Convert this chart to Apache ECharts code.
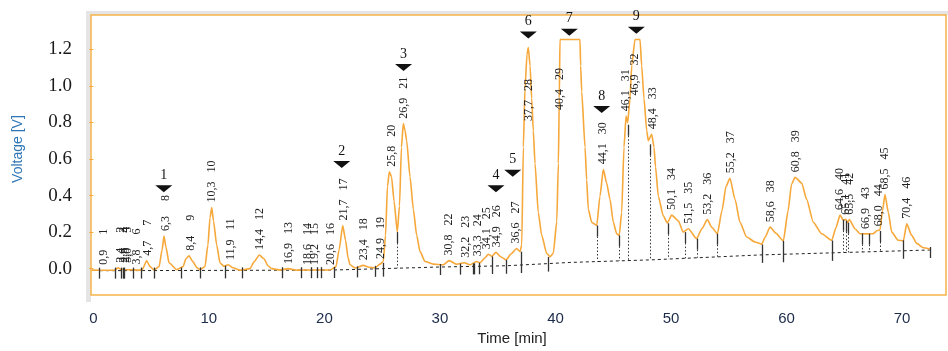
<!DOCTYPE html>
<html><head><meta charset="utf-8">
<script src="https://cdn.jsdelivr.net/npm/echarts@6/dist/echarts.min.js"></script>
<style>html,body{margin:0;padding:0;background:#fff}#c{width:948px;height:351px}</style>
</head><body><div id="c"></div>
<script>
// ---- data ----
const signal = [
[-0.15,-0.008],[1.45,-0.009],[1.88,-0.008],[2.14,0.005],[2.40,-0.005],[4.21,-0.008],[4.62,0.043],[4.91,0.011],
[5.25,-0.007],[5.69,0.011],[5.95,0.102],[6.12,0.178],[6.29,0.118],[6.55,0.032],[7.22,-0.005],[7.76,0.011],
[8.02,0.054],[8.28,0.070],[8.63,0.037],[8.98,0.005],[9.23,-0.005],[9.66,0.011],[9.92,0.129],[10.10,0.279],
[10.25,0.334],[10.40,0.262],[10.68,0.129],[10.97,0.031],[11.31,0.013],[11.68,0.021],[12.09,0.005],[12.70,-0.009],
[13.56,0.000],[13.91,0.037],[14.37,0.075],[14.77,0.054],[15.12,0.016],[15.44,0.000],[16.16,-0.008],[16.85,0.000],
[17.54,-0.008],[20.49,-0.007],[21.00,0.011],[21.27,0.102],[21.59,0.236],[21.83,0.155],[22.05,0.059],[22.22,0.021],
[22.65,0.004],[23.37,0.018],[23.86,0.008],[24.38,0.004],[24.81,0.025],[25.10,0.039],[25.29,0.182],[25.46,0.450],
[25.62,0.530],[25.81,0.503],[26.03,0.370],[26.31,0.200],[26.50,0.343],[26.67,0.664],[26.83,0.793],[26.98,0.755],
[27.12,0.700],[27.41,0.503],[27.70,0.325],[27.99,0.182],[28.28,0.093],[28.71,0.039],[29.43,0.025],[30.29,0.021],
[30.80,0.044],[31.45,0.024],[32.11,0.032],[32.60,0.021],[33.18,0.039],[33.47,0.032],[33.90,0.059],[34.19,0.079],
[34.48,0.068],[34.85,0.089],[35.29,0.064],[35.72,0.048],[36.15,0.080],[36.64,0.110],[36.93,0.093],[37.08,0.129],
[37.22,0.664],[37.36,0.986],[37.54,1.173],[37.65,1.209],[37.80,1.110],[37.94,0.932],[38.08,0.755],[38.23,0.575],
[38.51,0.307],[38.81,0.182],[39.24,0.084],[39.53,0.066],[39.81,0.084],[40.11,0.257],[40.25,0.575],[40.33,0.932],
[40.39,1.253],[42.12,1.253],[42.18,1.110],[42.27,0.968],[42.56,0.664],[42.70,0.486],[42.84,0.325],[43.14,0.253],
[43.57,0.236],[43.85,0.396],[44.14,0.543],[44.43,0.468],[44.72,0.379],[45.01,0.253],[45.30,0.191],[45.52,0.182],
[45.73,0.307],[45.93,0.664],[46.11,0.834],[46.25,0.798],[46.45,0.932],[46.60,1.110],[46.88,1.253],[47.32,1.253],
[47.46,1.110],[47.66,0.932],[47.90,0.754],[48.03,0.700],[48.33,0.735],[48.53,0.664],[48.66,0.557],[48.90,0.396],
[49.33,0.289],[49.68,0.250],[50.06,0.293],[50.63,0.262],[51.06,0.200],[51.50,0.218],[52.22,0.164],[52.68,0.220],
[53.14,0.268],[53.55,0.225],[54.01,0.191],[54.41,0.316],[54.76,0.450],[55.10,0.494],[55.54,0.379],[55.97,0.253],
[56.55,0.173],[57.27,0.146],[57.85,0.134],[58.14,0.171],[58.57,0.227],[59.09,0.193],[59.72,0.152],[60.13,0.316],
[60.43,0.461],[60.73,0.500],[61.31,0.468],[61.74,0.379],[62.32,0.253],[63.04,0.191],[63.91,0.155],[64.28,0.225],
[64.63,0.293],[64.91,0.265],[65.14,0.270],[65.27,0.252],[65.43,0.268],[65.92,0.218],[66.36,0.191],[66.88,0.190],
[67.48,0.191],[67.86,0.209],[68.09,0.212],[68.30,0.316],[68.52,0.405],[68.81,0.307],[69.10,0.200],[69.67,0.155],
[70.11,0.153],[70.40,0.245],[70.83,0.182],[71.27,0.138],[71.84,0.114],[72.42,0.106]
];
const baselineTimes = [0.58, 20.49, 30.0, 35.8, 41.25, 48.2, 57.7, 72.4];
const baselineVolts = [-0.011, -0.008, 0.009, 0.016, 0.034, 0.048, 0.075, 0.102];

const peakTimes = [0.9,2.4,2.6,2.8,3.0,3.8,4.7,6.3,8.4,10.3,11.9,14.4,16.9,18.6,19.2,20.6,21.7,23.4,24.9,25.8,
  26.9,30.8,32.2,33.3,34.1,34.9,36.6,37.7,40.4,44.1,46.1,46.9,48.4,50.1,51.5,53.2,55.2,58.6,60.8,64.6,
  65.1,65.5,66.9,68.0,68.5,70.4];
const peakHeights = [-0.006,0.005,0.005,0.005,0.005,-0.005,0.043,0.178,0.070,0.334,0.020,0.075,-0.002,-0.007,-0.007,-0.007,
  0.236,0.018,0.025,0.530,0.793,0.045,0.032,0.040,0.079,0.090,0.110,1.209,1.253,0.543,0.834,1.253,0.735,0.293,0.218,
  0.268,0.494,0.227,0.500,0.293,0.268,0.268,0.190,0.205,0.405,0.245];
// label levels used by the instrument for the off-scale peaks (peak number -> volts)
const offScaleLabelLevels = {28: 0.78, 29: 0.84, 32: 0.92};

const boundaryTimes = [0.52,1.88,2.40,2.53,2.66,3.44,4.09,5.25,7.59,9.23,11.44,12.91,16.29,17.98,18.80,19.32,19.71,20.83,
  22.78,24.34,25.03,26.31,30.01,31.74,32.84,32.98,33.41,34.53,35.72,37.02,39.38,43.57,45.52,46.30,48.18,49.77,51.21,
  52.28,53.95,57.85,59.72,63.91,64.91,65.14,65.34,66.56,67.16,68.09,70.11,72.42];
const boundaryTops = [-0.008,-0.008,-0.005,-0.005,-0.005,-0.008,-0.008,-0.007,-0.005,-0.005,0.016,-0.009,-0.005,-0.007,-0.007,
  -0.007,-0.007,-0.007,0.005,0.005,0.032,0.200,0.021,0.019,0.021,0.021,0.032,0.067,0.048,0.093,0.064,0.236,0.182,0.787,
  0.680,0.248,0.200,0.164,0.191,0.132,0.152,0.154,0.268,0.262,0.252,0.193,0.191,0.206,0.155,0.105];

const compoundTimes = [6.1,21.5,26.85,34.85,36.3,37.65,41.2,44.0,47.0];
const compoundLevels = [0.44,0.573,1.103,0.44,0.525,1.28,1.296,0.873,1.307];

const xTicks = [0,10,20,30,40,50,60,70];
const yTicks = [0,0.2,0.4,0.6,0.8,1.0,1.2];

// ---- chart ----
const ORANGE = '#F6A83A';
const SERIF = '"Liberation Serif","DejaVu Serif",serif';

function baselineAt(t){
  const n = baselineTimes.length;
  if (t <= baselineTimes[0]) return baselineVolts[0];
  for (let i=1;i<n;i++){
    if (t <= baselineTimes[i]){
      const f=(t-baselineTimes[i-1])/(baselineTimes[i]-baselineTimes[i-1]);
      return baselineVolts[i-1]+f*(baselineVolts[i]-baselineVolts[i-1]);
    }
  }
  return baselineVolts[n-1];
}

const peakData = peakTimes.map((t,i)=>{
  const lvl = offScaleLabelLevels[i+1] !== undefined ? offScaleLabelLevels[i+1] : peakHeights[i];
  return [t, lvl, i];
});
const boundaryData = boundaryTimes.map((t,i)=>[t, boundaryTops[i], baselineAt(t)]);
const compoundData = compoundTimes.map((t,i)=>[t, compoundLevels[i], i]);

const chart = echarts.init(document.getElementById('c'), null, {renderer:'canvas'});
chart.setOption({
  animation:false,
  backgroundColor:'#fff',
  graphic:[
    {type:'rect', z:-10, shape:{x:86,y:11,width:862,height:4}, style:{fill:'#e5e5e5'}},
    {type:'rect', z:-10, shape:{x:86,y:11,width:5,height:291}, style:{fill:'#e5e5e5'}}
  ],
  grid:{left:91,right:2,top:15,bottom:50,show:true,borderColor:'#F7B24A',borderWidth:1.5,backgroundColor:'rgba(0,0,0,0)'},
  xAxis:{
    type:'value', min:-0.2, max:73.8,
    splitLine:{show:false}, axisLine:{show:false}, axisTick:{show:false},
    axisLabel:{customValues:xTicks, margin:16, color:'#1c2b4a', fontSize:15, fontFamily:'"Liberation Sans",Arial,sans-serif'},
    name:'Time [min]', nameLocation:'middle', nameGap:33,
    nameTextStyle:{color:'#222', fontSize:15, fontFamily:'"Liberation Sans",Arial,sans-serif', padding:[0,13,0,0]}
  },
  yAxis:{
    type:'value', min:-0.1446, max:1.3872,
    splitLine:{show:false}, axisLine:{show:false},
    axisTick:{show:true, customValues:yTicks, length:4, inside:false, lineStyle:{color:ORANGE,width:1}},
    axisLabel:{customValues:yTicks, margin:19, color:'#1a1a1a', fontSize:19, fontFamily:SERIF,
      formatter:v=>v.toFixed(1), padding:[0,0,12,0]},
    name:'Voltage [V]', nameLocation:'middle', nameGap:66, nameRotate:90,
    nameTextStyle:{color:'#2E75B6', fontSize:14, fontFamily:'"Liberation Sans",Arial,sans-serif', padding:[0,0,0,12]}
  },
  series:[
    {type:'line', name:'baseline', data:baselineTimes.map((t,i)=>[t,baselineVolts[i]]), symbol:'none',
      lineStyle:{color:'#222',width:1,type:[3,3]}, z:2},
    {type:'line', name:'signal', data:signal, symbol:'none', smooth:0.2, smoothMonotone:'x',
      lineStyle:{color:ORANGE,width:1.6}, z:3},
    {type:'custom', name:'boundaries', data:boundaryData, z:4,
      renderItem:(params,api)=>{
        const t=api.value(0);
        const top=api.coord([t,api.value(1)]);
        const base=api.coord([t,api.value(2)]);
        const x=Math.round(top[0])+0.5;
        const children=[];
        if (base[1]-top[1] < 14){
          children.push({type:'line', shape:{x1:x,y1:Math.min(top[1],base[1]-3),x2:x,y2:base[1]+8},
            style:{stroke:'#333',lineWidth:1.3}});
        } else {
          children.push({type:'line', shape:{x1:x,y1:top[1],x2:x,y2:top[1]+11}, style:{stroke:'#333',lineWidth:1.3}});
          children.push({type:'line', shape:{x1:x,y1:top[1]+11,x2:x,y2:base[1]}, style:{stroke:'#333',lineWidth:1,lineDash:[1.5,2]}});
        }
        return {type:'group', children};
      }},
    {type:'custom', name:'peakLabels', data:peakData, z:5,
      renderItem:(params,api)=>{
        const t=api.value(0), i=api.value(2);
        const p=api.coord([t,api.value(1)]);
        const rt=t.toFixed(1).replace('.',',');
        return {type:'group', children:[
          {type:'text', x:p[0], y:p[1]-5, rotation:Math.PI/2,
            style:{text:rt, font:'12px '+SERIF, fill:'#222', align:'left', verticalAlign:'middle'}},
          {type:'text', x:p[0], y:p[1]-35, rotation:Math.PI/2,
            style:{text:String(i+1), font:'12px '+SERIF, fill:'#222', align:'left', verticalAlign:'middle'}}
        ]};
      }},
    {type:'custom', name:'compounds', data:compoundData, z:6,
      renderItem:(params,api)=>{
        const p=api.coord([api.value(0),api.value(1)]);
        const i=api.value(2);
        return {type:'group', children:[
          {type:'polygon', shape:{points:[[p[0]-8.5,p[1]-3],[p[0]+8.5,p[1]-3],[p[0],p[1]+4]]}, style:{fill:'#111'}},
          {type:'text', x:p[0], y:p[1]-6, style:{text:String(i+1), font:'14px '+SERIF, fill:'#111', align:'center', verticalAlign:'bottom'}}
        ]};
      }}
  ]
});
</script></body></html>
